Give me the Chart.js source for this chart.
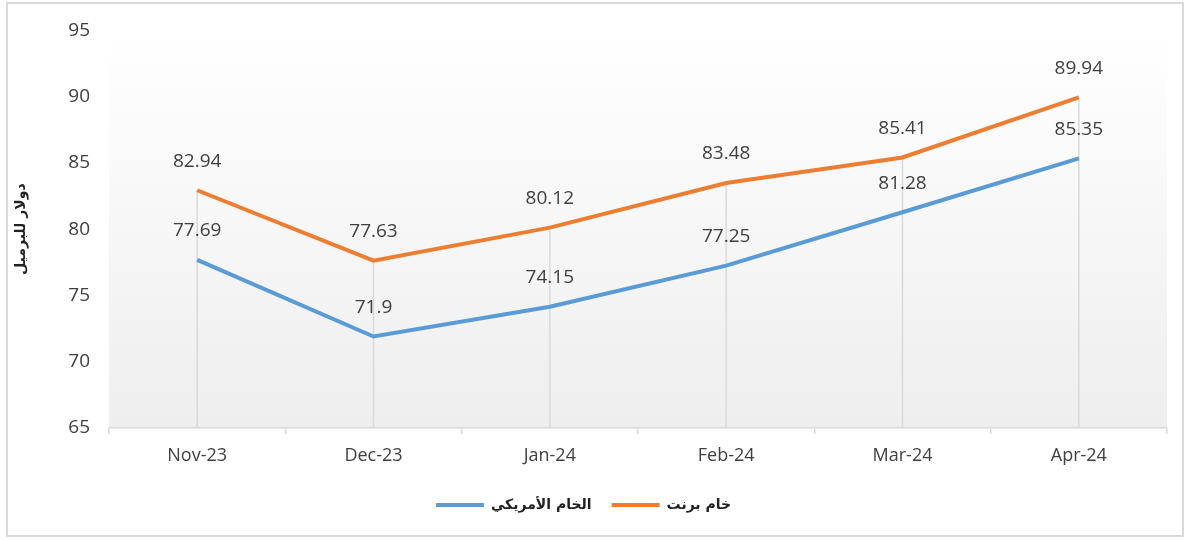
<!DOCTYPE html>
<html>
<head>
<meta charset="utf-8">
<script src="https://cdn.jsdelivr.net/npm/chart.js@4.4.1/dist/chart.umd.min.js"></script>
<style>
  html, body { margin: 0; padding: 0; background: #ffffff; }
  #wrap { width: 1188px; height: 540px; position: relative; }
</style>
</head>
<body>
<div id="wrap"><canvas id="c" width="1188" height="540"></canvas></div>
<script>
const categories = ['Nov-23', 'Dec-23', 'Jan-24', 'Feb-24', 'Mar-24', 'Apr-24'];
const wtiValues = [77.69, 71.9, 74.15, 77.25, 81.28, 85.35];
const brentValues = [82.94, 77.63, 80.12, 83.48, 85.41, 89.94];
const wtiName = 'الخام الأمريكي';
const brentName = 'خام برنت';
const yTitle = 'دولار للبرميل';
const yMin = 65, yMax = 95, yStep = 5;

const textColor = '#404040';
const gridColor = '#d9d9d9';

const framePlugin = {
  id: 'frame',
  beforeDraw(chart) {
    const { ctx, chartArea: a } = chart;
    ctx.save();
    ctx.fillStyle = '#ffffff';
    ctx.fillRect(0, 0, chart.width, chart.height);
    const g = ctx.createLinearGradient(0, a.top, 0, a.bottom);
    g.addColorStop(0, '#ffffff');
    g.addColorStop(1, '#eeeeee');
    ctx.fillStyle = g;
    ctx.fillRect(a.left, a.top, a.right - a.left, a.bottom - a.top);
    ctx.strokeStyle = '#d9d9d9';
    ctx.lineWidth = 2;
    ctx.strokeRect(7, 3, 1176, 533);
    ctx.restore();
  }
};

const dropLinePlugin = {
  id: 'dropLines',
  beforeDatasetsDraw(chart) {
    const { ctx, chartArea: a, scales } = chart;
    ctx.save();
    ctx.strokeStyle = gridColor;
    ctx.lineWidth = 1.5;
    categories.forEach((c, i) => {
      const top = Math.max(...chart.data.datasets.map(d => d.data[i]));
      const x = scales.x.getPixelForValue(i);
      const y = scales.y.getPixelForValue(top);
      ctx.beginPath();
      ctx.moveTo(x, y);
      ctx.lineTo(x, a.bottom);
      ctx.stroke();
    });
    ctx.restore();
  }
};

const labelPlugin = {
  id: 'valueLabels',
  afterDatasetsDraw(chart) {
    const { ctx } = chart;
    ctx.save();
    ctx.font = '19px "Open Sans"';
    ctx.fillStyle = textColor;
    ctx.textAlign = 'center';
    ctx.textBaseline = 'middle';
    chart.data.datasets.forEach((ds, di) => {
      const meta = chart.getDatasetMeta(di);
      meta.data.forEach((pt, i) => {
        ctx.fillText(String(ds.data[i]), pt.x, pt.y - 29);
      });
    });
    ctx.restore();
  }
};

new Chart(document.getElementById('c'), {
  type: 'line',
  data: {
    labels: categories,
    datasets: [
      {
        label: wtiName,
        data: wtiValues,
        borderColor: '#5B9BD5',
        backgroundColor: '#5B9BD5',
        borderWidth: 4,
        pointRadius: 0,
        tension: 0
      },
      {
        label: brentName,
        data: brentValues,
        borderColor: '#ED7D31',
        backgroundColor: '#ED7D31',
        borderWidth: 4,
        pointRadius: 0,
        tension: 0
      }
    ]
  },
  options: {
    responsive: false,
    animation: false,
    layout: { padding: { left: 0, right: 21, top: 28, bottom: 18 } },
    plugins: {
      tooltip: { enabled: false },
      legend: {
        position: 'bottom',
        labels: {
          usePointStyle: true,
          pointStyle: 'line',
          pointStyleWidth: 48,
          boxHeight: 14,
          padding: 20,
          color: '#222222',
          font: { family: '"DejaVu Sans"', size: 14, weight: 'bold' }
        }
      }
    },
    scales: {
      x: {
        offset: true,
        grid: {
          offset: true,
          drawOnChartArea: false,
          drawTicks: true,
          tickLength: 6,
          color: gridColor,
          lineWidth: 1.5
        },
        border: { color: gridColor, width: 1.5 },
        ticks: {
          color: textColor,
          padding: 11,
          font: { family: '"Open Sans"', size: 18 }
        },
        afterFit(scale) { scale.height = 50; }
      },
      y: {
        min: yMin,
        max: yMax,
        grid: { display: false, drawTicks: false },
        border: { display: false },
        ticks: {
          stepSize: yStep,
          color: textColor,
          padding: 19,
          font: { family: '"Open Sans"', size: 19 }
        },
        title: {
          display: true,
          text: yTitle,
          color: '#222222',
          padding: { top: 13, bottom: 0 },
          font: { family: '"DejaVu Sans"', size: 14, weight: 'bold' }
        },
        afterFit(scale) { scale.width = 109; }
      }
    }
  },
  plugins: [framePlugin, dropLinePlugin, labelPlugin]
});
</script>
</body>
</html>
